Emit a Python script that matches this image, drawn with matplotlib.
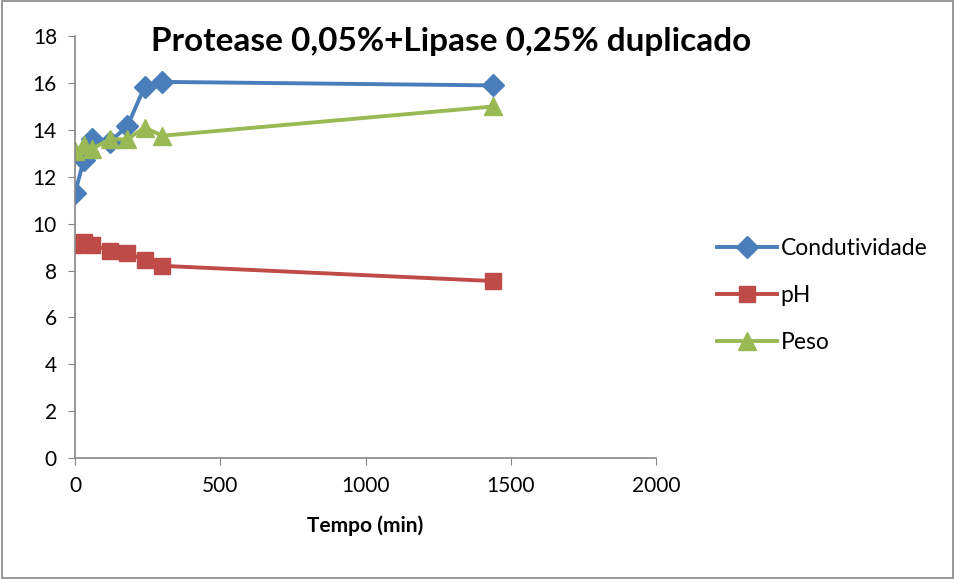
import matplotlib.pyplot as plt
from matplotlib.patches import Rectangle

tempo = [0, 30, 60, 120, 180, 240, 300, 1440]
condutividade = [11.3, 12.7, 13.6, 13.5, 14.15, 15.85, 16.05, 15.9]
ph = [9.1, 9.2, 9.1, 8.85, 8.75, 8.45, 8.2, 7.55]
peso = [13.1, 13.35, 13.2, 13.6, 13.6, 14.1, 13.75, 15.0]

plt.rcParams['font.family'] = ['Lato', 'DejaVu Sans']

fig = plt.figure(figsize=(9.55, 5.79), dpi=100)
ax = fig.add_axes([0.0785, 0.209, 0.6085, 0.7285])

ax.plot(tempo, condutividade, color='#4A7EBB', lw=2.8, marker='D', ms=11, label='Condutividade')
ax.plot(tempo, ph, color='#BE4B48', lw=2.8, marker='s', ms=12, label='pH')
ax.plot(tempo, peso, color='#98B954', lw=2.8, marker='^', ms=13, label='Peso')

ax.set_xlim(0, 2000)
ax.set_ylim(0, 18)
ax.set_xticks([0, 500, 1000, 1500, 2000])
ax.set_yticks(range(0, 19, 2))
for s in ['top', 'right']:
    ax.spines[s].set_visible(False)
for s in ['left', 'bottom']:
    ax.spines[s].set_color('#868686')
    ax.spines[s].set_linewidth(1.2)
ax.tick_params(direction='out', length=5, color='#868686', labelsize=15, pad=8)
ax.set_xlabel('Tempo (min)', fontsize=15, fontweight='bold', labelpad=14)
ax.set_title('Protease 0,05%+Lipase 0,25% duplicado', fontsize=24, fontweight='bold',
             x=0.647, y=0.945)

ax.legend(loc='center left', bbox_to_anchor=(1.07, 0.385), frameon=False, fontsize=16.5,
          handlelength=2.6, labelspacing=1.15, handletextpad=0.15)

fig.patches.append(Rectangle((0.002, 0.002), 0.996, 0.996, transform=fig.transFigure,
                             fill=False, edgecolor='#868686', lw=1.2))

fig.savefig('out.png', dpi=100)
